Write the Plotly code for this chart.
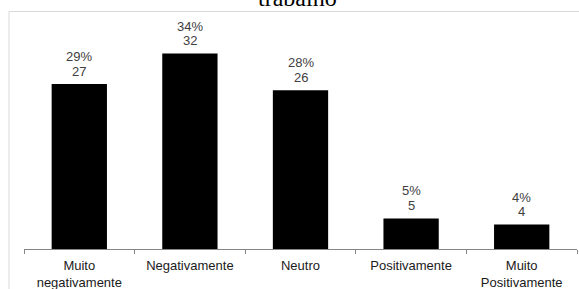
import plotly.graph_objects as go

categories = ["Muito<br>negativamente", "Negativamente", "Neutro", "Positivamente", "Muito<br>Positivamente"]
counts = [27, 32, 26, 5, 4]
percents = ["29%", "34%", "28%", "5%", "4%"]
title_text = "trabalho"

W, H = 579, 289
L, R, T, B = 24, 2, 12, 40
plot_w = W - L - R
plot_h = H - T - B

fig = go.Figure(go.Bar(
    x=categories,
    y=counts,
    marker=dict(color="#000000", line=dict(width=0)),
    width=0.5,
    cliponaxis=False,
    hoverinfo="skip",
))

label_font = dict(family="Liberation Sans, Arial", size=13, color="#404040")
for cat, cnt, pct in zip(categories, counts, percents):
    fig.add_annotation(x=cat, y=cnt, xref="x", yref="y", text=str(cnt),
                       showarrow=False, yanchor="middle", yshift=13, font=label_font)
    fig.add_annotation(x=cat, y=cnt, xref="x", yref="y", text=pct,
                       showarrow=False, yanchor="middle", yshift=27.5, font=label_font)

def px_x(x):
    return (x - L) / plot_w

def px_y(y):
    return (H - B - y) / plot_h

fig.add_shape(type="rect", xref="paper", yref="paper",
              x0=px_x(9), x1=px_x(600), y0=px_y(300), y1=px_y(11.5),
              line=dict(color="#d9d9d9", width=1), fillcolor="rgba(0,0,0,0)", layer="below")

fig.add_annotation(text=title_text, xref="paper", yref="paper",
                   x=px_x(297), y=px_y(13), xanchor="center", yanchor="bottom",
                   showarrow=False,
                   font=dict(family="Liberation Serif, Times New Roman", size=24, color="#000000"))

fig.update_layout(
    width=W, height=H,
    margin=dict(l=L, r=R, t=T, b=B, autoexpand=False),
    paper_bgcolor="white", plot_bgcolor="white",
    showlegend=False,
    bargap=0.5,
    xaxis=dict(
        type="category", automargin=False,
        showline=True, linecolor="#868686", linewidth=1,
        ticks="outside", tickson="boundaries", ticklen=4, tickcolor="#868686",
        ticklabelstandoff=4,
        tickfont=dict(family="Liberation Sans, Arial", size=13, color="#1a1a1a"),
        showgrid=False, zeroline=False,
    ),
    yaxis=dict(
        range=[0, 38.8], visible=False, showgrid=False, zeroline=False, automargin=False,
    ),
)

fig.write_html("out.html", config={"displayModeBar": False},
               post_script="document.body.style.margin='0';document.body.style.overflow='hidden';")
